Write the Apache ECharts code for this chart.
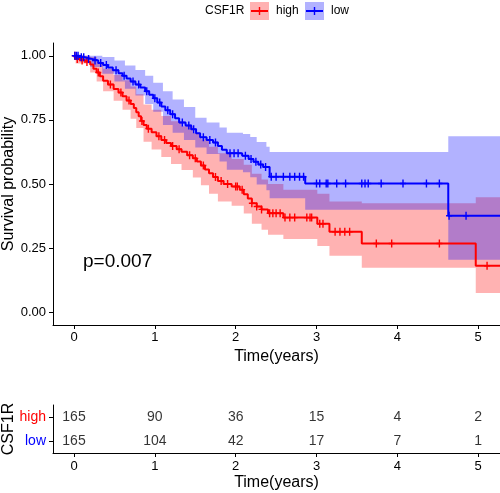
<!DOCTYPE html>
<html>
<head>
<meta charset="utf-8">
<script src="https://cdn.jsdelivr.net/npm/echarts@6/dist/echarts.min.js"></script>
<style>html,body{margin:0;padding:0;background:#fff}#chart{width:500px;height:493px}</style>
</head>
<body>
<div id="chart"></div>
<script>
// ---------- data ----------
const groupNames = ['high', 'low'];
const xTicks = [0, 1, 2, 3, 4, 5];
const yTicks = [0, 0.25, 0.5, 0.75, 1];

const highTime = [0,0.02,0.08,0.14,0.2,0.24,0.28,0.32,0.36,0.42,0.49,0.55,0.6,0.65,0.7,0.74,0.77,0.8,0.83,0.86,0.9,0.96,1.02,1.08,1.14,1.2,1.27,1.33,1.4,1.47,1.52,1.57,1.62,1.67,1.72,1.78,1.85,1.95,2.05,2.1,2.15,2.2,2.26,2.32,2.4,2.59,3.01,3.16,3.56,4.97,5.27];
const highSurv = [1.0,0.988,0.982,0.976,0.966,0.95,0.935,0.92,0.903,0.888,0.871,0.857,0.842,0.826,0.812,0.796,0.78,0.764,0.746,0.73,0.716,0.702,0.686,0.672,0.66,0.648,0.636,0.626,0.612,0.6,0.588,0.572,0.557,0.542,0.527,0.512,0.5,0.49,0.478,0.46,0.443,0.425,0.412,0.401,0.386,0.369,0.345,0.314,0.268,0.181,0.181];

const lowTime = [0,0.06,0.14,0.22,0.3,0.36,0.42,0.48,0.55,0.6,0.65,0.7,0.76,0.82,0.88,0.93,0.98,1.03,1.08,1.13,1.19,1.25,1.3,1.38,1.45,1.51,1.56,1.64,1.72,1.78,1.83,1.89,2.08,2.16,2.22,2.28,2.34,2.42,2.86,4.63,5.27];
const lowSurv = [1.0,0.994,0.988,0.982,0.972,0.964,0.954,0.944,0.932,0.922,0.912,0.9,0.888,0.876,0.862,0.848,0.834,0.818,0.802,0.788,0.772,0.756,0.74,0.728,0.714,0.698,0.682,0.672,0.662,0.648,0.634,0.62,0.61,0.598,0.587,0.576,0.566,0.528,0.502,0.376,0.376];

const highBandTime = [0,0.02,0.2,0.28,0.36,0.49,0.6,0.7,0.77,0.86,0.96,1.08,1.2,1.33,1.47,1.57,1.67,1.78,1.95,2.1,2.2,2.32,2.4,2.59,3.01,3.16,3.56,4.97,5.27];
const highLower = [1.0,0.97,0.935,0.9,0.862,0.825,0.79,0.755,0.718,0.665,0.635,0.605,0.578,0.555,0.525,0.495,0.462,0.432,0.415,0.385,0.345,0.322,0.302,0.285,0.258,0.22,0.173,0.075,0.075];
const highUpper = [1.0,1.0,0.995,0.975,0.95,0.925,0.905,0.88,0.85,0.81,0.79,0.765,0.745,0.725,0.70,0.675,0.645,0.62,0.598,0.575,0.54,0.518,0.50,0.478,0.462,0.432,0.425,0.448,0.448];

const lowBandTime = [0,0.05,0.2,0.35,0.5,0.63,0.76,0.88,0.98,1.10,1.22,1.36,1.50,1.64,1.80,1.89,2.09,2.18,2.26,2.38,2.42,2.86,4.63,5.27];
const lowLower = [1.0,0.983,0.956,0.93,0.9,0.872,0.845,0.812,0.782,0.73,0.70,0.672,0.642,0.617,0.588,0.556,0.546,0.526,0.498,0.476,0.444,0.400,0.205,0.205];
const lowUpper = [1.0,1.0,1.0,0.995,0.982,0.962,0.945,0.922,0.895,0.862,0.83,0.80,0.758,0.74,0.72,0.70,0.695,0.683,0.664,0.645,0.625,0.625,0.686,0.686];

const highCensor = [0.01,0.04,0.1,0.16,0.3,0.45,0.58,0.68,0.84,0.92,1.05,1.12,1.22,1.3,1.43,1.5,1.6,1.75,1.82,1.9,2.0,2.02,2.08,2.2,2.26,2.32,2.42,2.46,2.5,2.55,2.61,2.67,2.73,2.88,2.92,2.94,3.04,3.08,3.23,3.29,3.35,3.41,3.74,3.93,4.52,5.11];
const lowCensor = [0.01,0.03,0.05,0.09,0.12,0.18,0.26,0.33,0.4,0.52,0.62,0.73,0.8,0.9,1.0,1.06,1.16,1.22,1.34,1.42,1.48,1.6,1.68,1.75,1.93,1.98,2.03,2.12,2.19,2.25,2.31,2.37,2.44,2.5,2.59,2.67,2.73,2.79,2.84,3.0,3.04,3.12,3.14,3.25,3.36,3.56,3.6,3.64,3.8,4.07,4.36,4.52,4.64,4.85];

const riskTimes = [0, 1, 2, 3, 4, 5];
const riskHigh = [165, 90, 36, 15, 4, 2];
const riskLow = [165, 104, 42, 17, 7, 1];

const pValueText = 'p=0.007';

// ---------- helpers ----------
const FONT = '"Liberation Sans", Arial, sans-serif';
const RED = '#FF0000', BLUE = '#0000FF';
const PLUS = 'path://M2.3,0H3.7V3.3H6V4.7H3.7V8H2.3V4.7H0V3.3H2.3Z';

function zip(a, b) { return a.map((v, i) => [v, b[i]]); }
function survAt(times, surv, t) {
  let s = surv[0];
  for (let i = 0; i < times.length; i++) if (times[i] <= t) s = surv[i];
  return s;
}
function bandSeries(times, lo, hi, color, z) {
  return {
    type: 'custom', xAxisIndex: 0, yAxisIndex: 0, clip: true, silent: true, z: z,
    data: [[times[0], hi[0]]],
    renderItem: function (params, api) {
      const pts = [];
      for (let i = 0; i < times.length - 1; i++) {
        pts.push(api.coord([times[i], hi[i]]));
        pts.push(api.coord([times[i + 1], hi[i]]));
      }
      for (let i = times.length - 2; i >= 0; i--) {
        pts.push(api.coord([times[i + 1], lo[i]]));
        pts.push(api.coord([times[i], lo[i]]));
      }
      return { type: 'polygon', shape: { points: pts }, style: { fill: color } };
    }
  };
}
function curveSeries(times, surv, color) {
  return {
    type: 'line', xAxisIndex: 0, yAxisIndex: 0, step: 'end', showSymbol: false,
    data: zip(times, surv), lineStyle: { color: color, width: 2 }, itemStyle: { color: color }, z: 5
  };
}
function censorSeries(cens, times, surv, color) {
  return {
    type: 'scatter', xAxisIndex: 0, yAxisIndex: 0, symbol: PLUS, symbolSize: [6, 8],
    data: cens.map(t => [t, survAt(times, surv, t)]), itemStyle: { color: color, opacity: 1 }, z: 6
  };
}
function riskSeries(name, counts) {
  return {
    type: 'scatter', xAxisIndex: 1, yAxisIndex: 1, symbolSize: 1,
    itemStyle: { color: 'rgba(0,0,0,0)' },
    data: riskTimes.map((t, i) => [t, name, counts[i]]),
    label: { show: true, position: 'inside', formatter: p => String(p.value[2]), fontSize: 14, color: '#000', fontFamily: FONT }
  };
}

const axisLineDef = { show: true, onZero: false, lineStyle: { color: '#000', width: 1 } };
function xAxisDef(gi, margin, gap) {
  return {
    gridIndex: gi, type: 'value', min: -0.26, max: 5.27,
    axisLine: axisLineDef, splitLine: { show: false },
    axisTick: { show: true, length: 4, customValues: xTicks, lineStyle: { color: '#000' } },
    axisLabel: { customValues: xTicks, fontSize: 13, color: '#000', margin: margin, fontFamily: FONT, formatter: v => String(v) },
    name: 'Time(years)', nameLocation: 'middle', nameGap: gap,
    nameTextStyle: { fontSize: 16, color: '#000', fontFamily: FONT }
  };
}

const chart = echarts.init(document.getElementById('chart'), null, { renderer: 'canvas' });
chart.setOption({
  animation: false,
  backgroundColor: '#fff',
  grid: [
    { left: 53, top: 43, width: 447, height: 282, outerBoundsMode: 'none', containLabel: false },
    { left: 53, top: 405, width: 447, height: 48, outerBoundsMode: 'none', containLabel: false }
  ],
  xAxis: [xAxisDef(0, 6, 20), xAxisDef(1, 7, 22)],
  yAxis: [
    {
      gridIndex: 0, type: 'value', min: -0.05, max: 1.05,
      axisLine: axisLineDef, splitLine: { show: false },
      axisTick: { show: true, length: 4, customValues: yTicks, lineStyle: { color: '#000' } },
      axisLabel: { customValues: yTicks, fontSize: 13, color: '#000', margin: 7, fontFamily: FONT, formatter: v => v.toFixed(2) },
      name: 'Survival probability', nameLocation: 'middle', nameGap: 36, nameMoveOverlap: false,
      nameTextStyle: { fontSize: 16, color: '#000', fontFamily: FONT }
    },
    {
      gridIndex: 1, type: 'category', data: ['low', 'high'],
      axisLine: axisLineDef, splitLine: { show: false },
      axisTick: { show: true, length: 4, alignWithLabel: true, lineStyle: { color: '#000' } },
      axisLabel: { fontSize: 14, margin: 7, fontFamily: FONT, color: (v) => v === 'high' ? RED : BLUE },
      name: 'CSF1R', nameLocation: 'middle', nameGap: 36, nameMoveOverlap: false,
      nameTextStyle: { fontSize: 16, color: '#000', fontFamily: FONT }
    }
  ],
  series: [
    bandSeries(highBandTime, highLower, highUpper, 'rgba(255,0,0,0.3)', 1),
    bandSeries(lowBandTime, lowLower, lowUpper, 'rgba(0,0,255,0.3)', 2),
    curveSeries(highTime, highSurv, RED),
    curveSeries(lowTime, lowSurv, BLUE),
    censorSeries(highCensor, highTime, highSurv, RED),
    censorSeries(lowCensor, lowTime, lowSurv, BLUE),
    riskSeries('high', riskHigh),
    riskSeries('low', riskLow)
  ],
  graphic: [
    { type: 'text', left: 83, top: 252, style: { text: pValueText, fontSize: 19, fill: '#000', fontFamily: FONT } },
    // legend
    { type: 'text', x: 205, y: 11, style: { text: 'CSF1R', fontSize: 12, fill: '#000', fontFamily: FONT, verticalAlign: 'middle' } },
    { type: 'rect', shape: { x: 250, y: 2, width: 19, height: 18 }, style: { fill: 'rgba(255,0,0,0.3)' } },
    { type: 'line', shape: { x1: 251, y1: 11, x2: 268, y2: 11 }, style: { stroke: RED, lineWidth: 2 } },
    { type: 'line', shape: { x1: 259.5, y1: 7, x2: 259.5, y2: 15 }, style: { stroke: RED, lineWidth: 1.4 } },
    { type: 'text', x: 276, y: 11, style: { text: groupNames[0], fontSize: 12, fill: '#000', fontFamily: FONT, verticalAlign: 'middle' } },
    { type: 'rect', shape: { x: 305, y: 2, width: 19, height: 18 }, style: { fill: 'rgba(0,0,255,0.3)' } },
    { type: 'line', shape: { x1: 306, y1: 11, x2: 323, y2: 11 }, style: { stroke: BLUE, lineWidth: 2 } },
    { type: 'line', shape: { x1: 314.5, y1: 7, x2: 314.5, y2: 15 }, style: { stroke: BLUE, lineWidth: 1.4 } },
    { type: 'text', x: 331, y: 11, style: { text: groupNames[1], fontSize: 12, fill: '#000', fontFamily: FONT, verticalAlign: 'middle' } }
  ]
});
</script>
</body>
</html>
